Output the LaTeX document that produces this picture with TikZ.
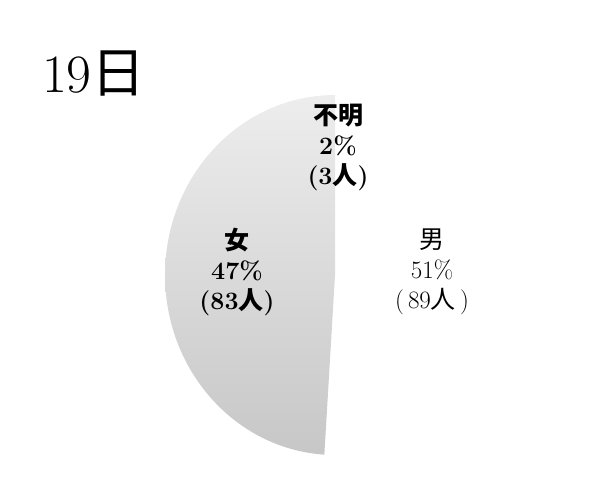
\documentclass[tikz,border=0pt]{standalone}
\usepackage{fontspec}
\newfontfamily\jpfont{Noto Sans CJK JP}
\newcommand{\jp}[1]{{\jpfont #1}}
\usetikzlibrary{positioning}

\begin{document}
\begin{tikzpicture}[x=1pt,y=-1pt,every node/.style={align=center, font=\fontsize{25}{30}\selectfont},share/.style={inner sep=0pt},boldshare/.style={inner sep=0pt, font={\fontsize{25}{30}\selectfont\bfseries}}]
\useasboundingbox (0,0) rectangle (601,488);
\coordinate (c) at (335,275);
% female + unknown slices
\shade[top color=black!7, bottom color=black!22] (c) -- ++(0,-180) arc[start angle=90, end angle=266.4, x radius=170pt, y radius=180pt] -- cycle;
\node[share, font=\fontsize{54}{54}\selectfont, anchor=west] (day) at (42,74) {19\jp{日}};
\node[boldshare] (unknown) at (338,147) {\jp{不明}\\2\%\\(3\jp{人})};
\node[boldshare] (female) at (237,272) {\jp{女}\\47\%\\(83\jp{人})};
\node[share] (male) at (432,272) {\jp{男}\\51\%\\(\,89\jp{人}\,)};
\end{tikzpicture}
\end{document}
